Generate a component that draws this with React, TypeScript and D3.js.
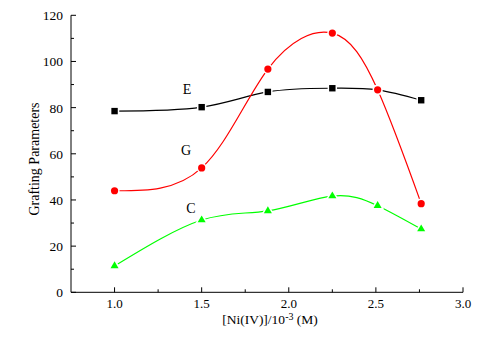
import React from "react";
import * as d3 from "d3";

const xValues = [1.0, 1.5, 1.88, 2.25, 2.51, 2.76];
const seriesE = [78.5, 80.2, 86.8, 88.4, 87.7, 83.2];
const seriesG = [44.0, 53.9, 96.7, 112.3, 87.7, 38.4];
const seriesC = [11.4, 31.3, 35.3, 41.7, 37.5, 27.4];
const xTicks = [1.0, 1.5, 2.0, 2.5, 3.0];
const yTicks = [0, 20, 40, 60, 80, 100, 120];
const xMinor = [1.25, 1.75, 2.25, 2.75];
const yMinor = [10, 30, 50, 70, 90, 110];

const W = 488;
const H = 357;
const FONT = "'Liberation Serif', 'Times New Roman', serif";

export default function App() {
  const x = d3.scaleLinear().domain([0.75, 3.0]).range([71, 463]);
  const y = d3.scaleLinear().domain([0, 120]).range([292.3, 15.3]);
  const line = d3
    .line<[number, number]>()
    .x((d) => x(d[0]))
    .y((d) => y(d[1]))
    .curve(d3.curveNatural);
  const pts = (vals: number[]) => xValues.map((v, i) => [v, vals[i]] as [number, number]);
  const tri = d3.symbol().type(d3.symbolTriangle).size(28)();

  return (
    <svg width={W} height={H} style={{ position: "absolute", left: 0, top: 0, background: "#fff" }}>
      {/* curves */}
      <path d={line(pts(seriesE)) || ""} fill="none" stroke="#000" strokeWidth={1.2} />
      <path d={line(pts(seriesG)) || ""} fill="none" stroke="#ff0000" strokeWidth={1.2} />
      <path d={line(pts(seriesC)) || ""} fill="none" stroke="#00ff00" strokeWidth={1.2} />
      {/* markers */}
      {xValues.map((v, i) => (
        <rect key={"e" + i} x={x(v) - 3.2} y={y(seriesE[i]) - 3.2} width={6.4} height={6.4} fill="#000" stroke="#fff" strokeWidth={3} paintOrder="stroke" />
      ))}
      {xValues.map((v, i) => (
        <circle key={"g" + i} cx={x(v)} cy={y(seriesG[i])} r={3.6} fill="#ff0000" stroke="#fff" strokeWidth={3} paintOrder="stroke" />
      ))}
      {xValues.map((v, i) => (
        <path key={"c" + i} d={tri || ""} transform={`translate(${x(v)},${y(seriesC[i])})`} fill="#00ff00" stroke="#fff" strokeWidth={3} paintOrder="stroke" />
      ))}
      {/* series labels */}
      <text x={187} y={94} fontFamily={FONT} fontSize={14} textAnchor="middle">E</text>
      <text x={186} y={155} fontFamily={FONT} fontSize={14} textAnchor="middle">G</text>
      <text x={191} y={213} fontFamily={FONT} fontSize={14} textAnchor="middle">C</text>
      {/* axes */}
      <line x1={71} x2={71} y1={y(120)} y2={y(0)} stroke="#000" strokeWidth={1} />
      <line x1={71} x2={463} y1={y(0)} y2={y(0)} stroke="#000" strokeWidth={1} />
      {yTicks.map((t) => (
        <g key={"yt" + t}>
          <line x1={71} x2={76} y1={y(t)} y2={y(t)} stroke="#000" />
          <text x={63} y={y(t) + 5} fontFamily={FONT} fontSize={13.5} textAnchor="end">{t}</text>
        </g>
      ))}
      {yMinor.map((t) => (
        <line key={"ym" + t} x1={71} x2={74} y1={y(t)} y2={y(t)} stroke="#000" />
      ))}
      {xTicks.map((t) => (
        <g key={"xt" + t}>
          <line x1={x(t)} x2={x(t)} y1={y(0)} y2={y(0) - 5} stroke="#000" />
          <text x={x(t)} y={308} fontFamily={FONT} fontSize={13} textAnchor="middle">{t.toFixed(1)}</text>
        </g>
      ))}
      {xMinor.map((t) => (
        <line key={"xm" + t} x1={x(t)} x2={x(t)} y1={y(0)} y2={y(0) - 3} stroke="#000" />
      ))}
      <text x={270} y={324} fontFamily={FONT} fontSize={13.5} textAnchor="middle">
        [Ni(IV)]/10<tspan dy={-4} fontSize={10}>-3</tspan><tspan dy={4}> (M)</tspan>
      </text>
      <text transform="translate(39,159) rotate(-90)" fontFamily={FONT} fontSize={14} textAnchor="middle">Grafting Parameters</text>
    </svg>
  );
}
